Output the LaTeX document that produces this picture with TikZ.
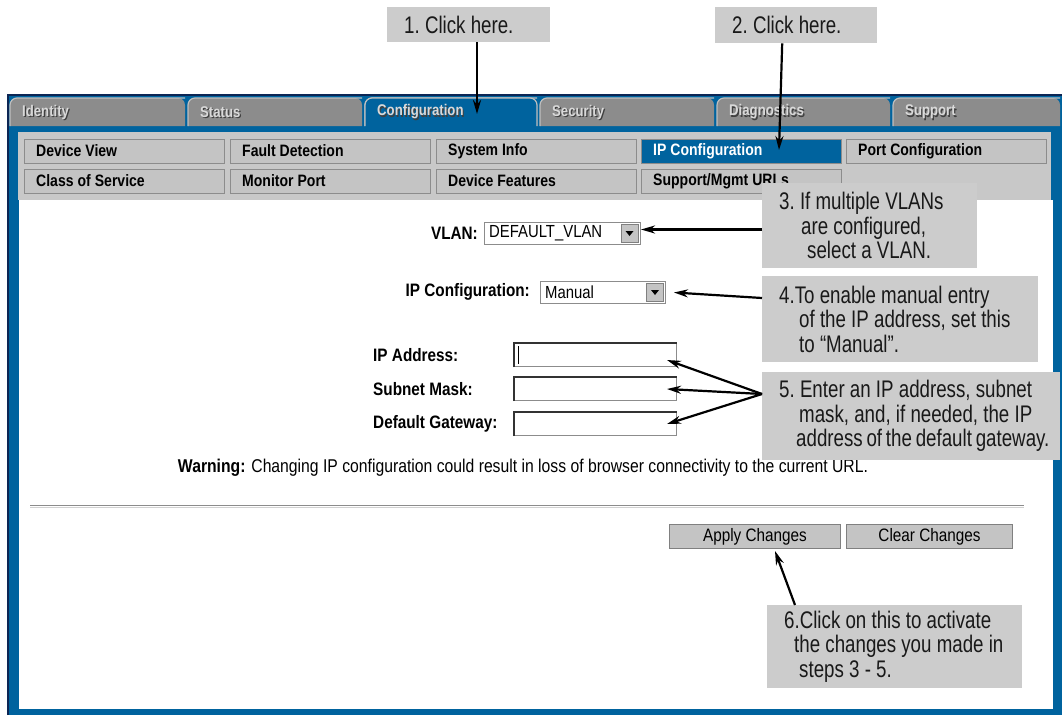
\documentclass[tikz,border=0pt]{standalone}
\usepackage{fontspec}
\setmainfont{Liberation Sans}
\newfontfamily\uifont[FakeStretch=0.85]{Liberation Sans}
\newfontfamily\notefont[FakeStretch=0.78]{Liberation Sans}
\usetikzlibrary{arrows.meta,positioning}
\definecolor{framebl}{RGB}{0,99,158}
\definecolor{navy}{RGB}{12,38,84}
\definecolor{tabgr}{RGB}{140,140,140}
\definecolor{panelgr}{RGB}{200,200,200}
\definecolor{btngr}{RGB}{196,196,196}
\definecolor{notegr}{RGB}{204,204,204}

% fonts with fixed word spaces (FakeStretch leaves the space wide)
\newcommand\notesize{\notefont\fontsize{24}{24.5}\selectfont}
\newcommand\notespace{\spaceskip=5.2pt plus 1pt minus 1pt\relax\xspaceskip=5.2pt\relax\hyphenpenalty=10000\relax}
\newcommand\btnsize{\uifont\bfseries\fontsize{16.5}{18}\selectfont\spaceskip=4pt\relax}
\newcommand\labsize{\uifont\bfseries\fontsize{18}{20}\selectfont\spaceskip=4.3pt\relax}
\newcommand\txtsize{\uifont\fontsize{18}{20}\selectfont\spaceskip=4.3pt\relax}
\newcommand\warnsize{\uifont\fontsize{18.5}{20}\selectfont\spaceskip=4.4pt\relax}

\tikzset{
  note/.style={fill=notegr, anchor=north west, inner xsep=17pt, inner ysep=0pt, align=left,
    text=black!90, font=\notesize, execute at begin node=\notespace},
  tablab/.style={anchor=west, inner sep=0pt, font=\uifont\bfseries\fontsize{15.5}{17}\selectfont},
  btn/.style={anchor=north west, draw=black!45, line width=1pt, minimum width=200pt,
    minimum height=24pt, inner sep=0pt},
  btnlab/.style={anchor=west, inner sep=0pt, font=\btnsize},
  lab/.style={anchor=east, inner sep=0pt, font=\labsize},
  field/.style={anchor=north west, fill=white, draw=black!45, line width=1pt, inner sep=0pt},
  valtxt/.style={anchor=west, inner sep=0pt, font=\uifont\fontsize{17.5}{19}\selectfont},
  ddbtn/.style={fill=btngr, draw=black!50, minimum width=17pt, minimum height=18pt, inner sep=0pt},
  pbtn/.style={anchor=north west, fill=btngr, draw=black!50, line width=1pt, minimum height=24pt,
    inner sep=0pt, font=\txtsize},
  pointer/.style={-{Stealth[length=14pt,width=8pt]}, line width=2.2pt},
}

\begin{document}
\begin{tikzpicture}[x=1pt,y=-1pt]
  \useasboundingbox (0,0) rectangle (1062,715);

  % window frame
  \fill[framebl] (7,94) rectangle (1062,715);
  \draw[navy, line width=2pt] (8,715) |- (1062,95);

  % tabs
  \foreach \lab/\xa/\xb [count=\i] in {Identity/10/185, Status/188/362, Configuration/365/537,
      Security/540/714, Diagnostics/717/890, Support/893/1060}{
    \fill[tabgr] (\xa,126) [rounded corners=7pt] -- (\xa,98) -- (\xb,98) [sharp corners] -- (\xb,126) -- cycle;
    \draw[black!25, line width=1.2pt] (\xa,126) [rounded corners=7pt] -- (\xa,98) -- (\xb,98);
  }
  \fill[framebl] (365,133) [rounded corners=7pt] -- (365,98) -- (537,98) [sharp corners] -- (537,133) -- cycle;
  \draw[black!25, line width=1.2pt] (365,126) [rounded corners=7pt] -- (365,98) -- (537,98) [sharp corners] -- (537,126);
  \foreach \lab/\xa [count=\i] in {Identity/10, Status/188, Configuration/365, Security/540,
      Diagnostics/717, Support/893}{
    \node[tablab, text=black!75] (tabsh\i) at (\xa+13.2,113.2) {\lab};
    \node[tablab, text=black!15] (tab\i) at (\xa+12,112) {\lab};
  }

  % button panel
  \fill[panelgr] (18,132) rectangle (1051,200);
  \foreach \lab/\xa/\bg/\fg [count=\i] in {Device View/24/btngr/black, Fault Detection/230/btngr/black,
      System Info/436/btngr/black, IP Configuration/641/framebl/white, Port Configuration/846/btngr/black}{
    \node[btn, fill=\bg] (top\i) at (\xa,139) {};
    \node[btnlab, text=\fg] (toplab\i) at (\xa+12,151) {\lab};
  }
  \foreach \lab/\xa [count=\i] in {Class of Service/24, Monitor Port/230, Device Features/436,
      {Support/Mgmt URLs}/641}{
    \node[btn, fill=btngr] (bot\i) at (\xa,169) {};
    \node[btnlab] (botlab\i) at (\xa+12,181) {\lab};
  }

  % content area
  \fill[white] (19,200) rectangle (1053,709);

  \node[lab] (vlanlab) at (478,233) {VLAN:};
  \node[field, minimum width=156pt, minimum height=22pt] (vlanbox) at (484,222) {};
  \node[valtxt] (vlantxt) at (489,233) {DEFAULT\_VLAN};
  \node[ddbtn] (vlandd) at (629.5,233) {};
  \fill ([shift={(-4,-2)}]vlandd.center) -- ++(8,0) -- ++(-4,5) -- cycle;

  \node[lab] (ipcfglab) at (530,292) {IP Configuration:};
  \node[field, minimum width=125pt, minimum height=22pt] (ipbox) at (540,281) {};
  \node[valtxt] (iptxt) at (545,292) {Manual};
  \node[ddbtn] (ipdd) at (655,292) {};
  \fill ([shift={(-4,-2)}]ipdd.center) -- ++(8,0) -- ++(-4,5) -- cycle;

  \foreach \lab/\y [count=\i] in {IP Address:/355, Subnet Mask:/389, Default Gateway:/424}{
    \node[lab, anchor=west] (flab\i) at (373,\y) {\lab};
    \node[field, anchor=west, minimum width=162pt, minimum height=23pt] (fbox\i) at (514,\y) {};
    \draw[black!80, line width=1.5pt] (fbox\i.south west) |- (fbox\i.north east);
  }
  \draw[line width=1pt] ([shift={(4,3)}]fbox1.north west) -- ([shift={(4,-3)}]fbox1.south west);

  \node[font=\warnsize] (warn) at (523,468)
    {\textbf{Warning:} Changing IP configuration could result in loss of browser connectivity to the current URL.};

  \draw[black!45, line width=1pt] (30,505) -- (1024,505);
  \draw[black!18, line width=1.5pt] (30,507.5) -- (1024,507.5);

  \node[pbtn, minimum width=171pt] (apply) at (669,524) {Apply Changes};
  \node[pbtn, minimum width=166pt] (clear) at (846,524) {Clear Changes};

  % callouts
  \node[note, text width=129pt, minimum height=35pt] (n1) at (387,7) {1. Click here.};
  \node[note, text width=128pt, minimum height=36pt] (n2) at (715,7) {2. Click here.};
  \node[note, text width=181pt, minimum height=85pt] (n3) at (762,183)
    {3. If multiple VLANs\\\hspace*{22pt}are configured,\\\hspace*{28pt}select a VLAN.};
  \node[note, text width=242pt, minimum height=86pt] (n4) at (762,276)
    {4.To enable manual entry\\\hspace*{20pt}of the IP address, set this\\\hspace*{20pt}to “Manual”.};
  \node[note, text width=264pt, minimum height=88pt] (n5) at (762,372)
    {5. Enter an IP address, subnet\\\hspace*{20pt}mask, and, if needed, the IP\\
     \hspace*{17pt}\mbox{\spaceskip=3.8pt\relax address of the default gateway.}};
  \node[note, text width=221pt, minimum height=83pt] (n6) at (767,605)
    {6.Click on this to activate\\\hspace*{10pt}the changes you made in\\\hspace*{15pt}steps 3 - 5.};

  \coordinate (tipcfg) at (477,114);
  \coordinate (tipip) at (779,150);
  \coordinate (c5) at ([yshift=-22pt]n5.north west);

  \draw[pointer] (n1.south -| tipcfg) -- (tipcfg);
  \draw[pointer] ([xshift=-14pt]n2.south) -- (tipip);
  \draw[pointer] ([yshift=4pt]n3.west |- vlanbox.east) -- ([yshift=4pt]vlanbox.east);
  \draw[pointer] ([yshift=-22pt]n4.north west) -- ([xshift=8pt]ipbox.east);
  \draw[pointer] (c5) -- ([shift={(-10,5)}]fbox1.east);
  \draw[pointer] (c5) -- ([xshift=-10pt]fbox2.east);
  \draw[pointer] (c5) -- ([xshift=-10pt]fbox3.east);
  \draw[pointer] ([xshift=28pt]n6.north west) -- ([shift={(20,2)}]apply.south);
\end{tikzpicture}
\end{document}
